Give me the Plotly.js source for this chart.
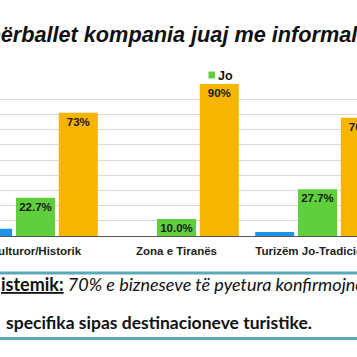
<!DOCTYPE html>
<html>
<head>
<meta charset="utf-8">
<script src="https://cdn.plot.ly/plotly-3.0.1.min.js"></script>
<style>
  html, body { margin: 0; padding: 0; width: 357px; height: 357px; overflow: hidden; background: #fff; position: relative; }
  #chart { position: absolute; left: -60px; top: 0; width: 480px; height: 357px; }
</style>
</head>
<body>
<div id="chart"></div>
<script>
// ---- data ----
const categories = ['Kulturor/Historik', 'Zona e Tiranës', 'Turizëm Jo-Tradicional'];
const seriesNames = ['Pa përgjigje', 'Jo', 'Po'];
const noAnswerValues = [4.3, 0, 2.3];
const noValues = [22.7, 10.0, 27.7];
const yesValues = [73, 90, 70];
const titleText = 'A përballet kompania juaj me informalitetin?';
const noteLine1Bold = 'istemik:';
const noteLine1Italic = ' 70% e bizneseve të pyetura konfirmojnë';
const noteLine2 = 'specifika sipas destinacioneve turistike.';

// ---- layout geometry (screen px) ----
const DIV_LEFT = -60, DIV_W = 480, H = 357;
const PLOT_LEFT = -35, PLOT_W = 423, PLOT_TOP = 84, PLOT_BOTTOM = 236;
const PLOT_H = PLOT_BOTTOM - PLOT_TOP;
const px = sx => (sx - PLOT_LEFT) / PLOT_W;
const py = sy => (PLOT_BOTTOM - sy) / PLOT_H;

const colors = ['#1f93ea', '#5fcf3e', '#f7b500'];
const FONT = 'Liberation Sans, Arial, sans-serif';
const NOTE_FONT = 'Lato, Open Sans, sans-serif';

const labelFont = { family: FONT, size: 11.5, color: '#1a1a1a', weight: 'bold' };

const traces = [
  { type: 'bar', name: seriesNames[0], x: categories, y: noAnswerValues, marker: { color: colors[0] }, hoverinfo: 'none' },
  { type: 'bar', name: seriesNames[1], x: categories, y: noValues, marker: { color: colors[1] },
    texttemplate: '%{y:.1f}%', textposition: 'inside', insidetextanchor: 'end', textangle: 0,
    constraintext: 'none', insidetextfont: labelFont, hoverinfo: 'none' },
  { type: 'bar', name: seriesNames[2], x: categories, y: yesValues, marker: { color: colors[2] },
    texttemplate: '%{y:.0f}%', textposition: 'inside', insidetextanchor: 'end', textangle: 0,
    constraintext: 'none', insidetextfont: labelFont, hoverinfo: 'none' }
];

// legend swatches & texts (manual, Excel-like spread legend)
const legendX = [-80, 208.5, 470];
const shapes = [];
const annotations = [];
seriesNames.forEach((n, i) => {
  const x0 = legendX[i];
  shapes.push({ type: 'rect', xref: 'paper', yref: 'paper', x0: px(x0), x1: px(x0 + 6.5), y0: py(78.5), y1: py(71.5),
    fillcolor: colors[i], line: { width: 0 } });
  annotations.push({ xref: 'paper', yref: 'paper', x: px(x0 + 7), y: py(75.5), xanchor: 'left', yanchor: 'middle',
    text: '<b>' + n + '</b>', showarrow: false, font: { family: FONT, size: 12.5, color: '#111' } });
});

// separators
shapes.push({ type: 'line', xref: 'paper', yref: 'paper', x0: px(-40), x1: px(400), y0: py(273), y1: py(273),
  line: { color: '#5aa9b8', width: 3 } });
shapes.push({ type: 'line', xref: 'paper', yref: 'paper', x0: px(-40), x1: px(400), y0: py(338.5), y1: py(338.5),
  line: { color: '#5aa9b8', width: 3 } });

annotations.push({ xref: 'paper', yref: 'paper', x: px(-1), y: py(284), xanchor: 'left', yanchor: 'middle',
  text: '<b><u>' + noteLine1Bold + '</u></b><i>' + noteLine1Italic + '</i>', showarrow: false,
  font: { family: NOTE_FONT, size: 18, color: '#111' } });
annotations.push({ xref: 'paper', yref: 'paper', x: px(3.5), y: py(322.5), xanchor: 'left', yanchor: 'middle',
  text: '<b>' + noteLine2 + '</b>', showarrow: false,
  font: { family: NOTE_FONT, size: 17.5, color: '#111' } });

const layout = {
  width: DIV_W, height: H,
  margin: { l: PLOT_LEFT - DIV_LEFT, r: DIV_W - (PLOT_LEFT - DIV_LEFT) - PLOT_W, t: PLOT_TOP, b: H - PLOT_BOTTOM, pad: 0 },
  paper_bgcolor: '#fff', plot_bgcolor: '#fff',
  title: { text: titleText, xref: 'container', x: (-33.5 - DIV_LEFT) / DIV_W, xanchor: 'left',
    yref: 'container', y: 1 - 34 / H, yanchor: 'middle',
    font: { family: FONT, size: 21.7, color: '#111', weight: 'bold', style: 'italic' } },
  showlegend: false,
  barmode: 'group', bargap: 0.089, bargroupgap: 0.089,
  xaxis: { type: 'category', showgrid: false, showline: true, linecolor: '#555', linewidth: 1,
    ticks: '', tickfont: { family: FONT, size: 11.5, color: '#222', weight: 'bold' }, ticklabelstandoff: 4 },
  yaxis: { range: [0, 90], dtick: 9, showgrid: true, gridcolor: '#d9d9d9', gridwidth: 1,
    zeroline: false, showticklabels: false, showline: false },
  shapes: shapes,
  annotations: annotations
};

Plotly.newPlot('chart', traces, layout, { staticPlot: true, displayModeBar: false });
</script>
</body>
</html>
